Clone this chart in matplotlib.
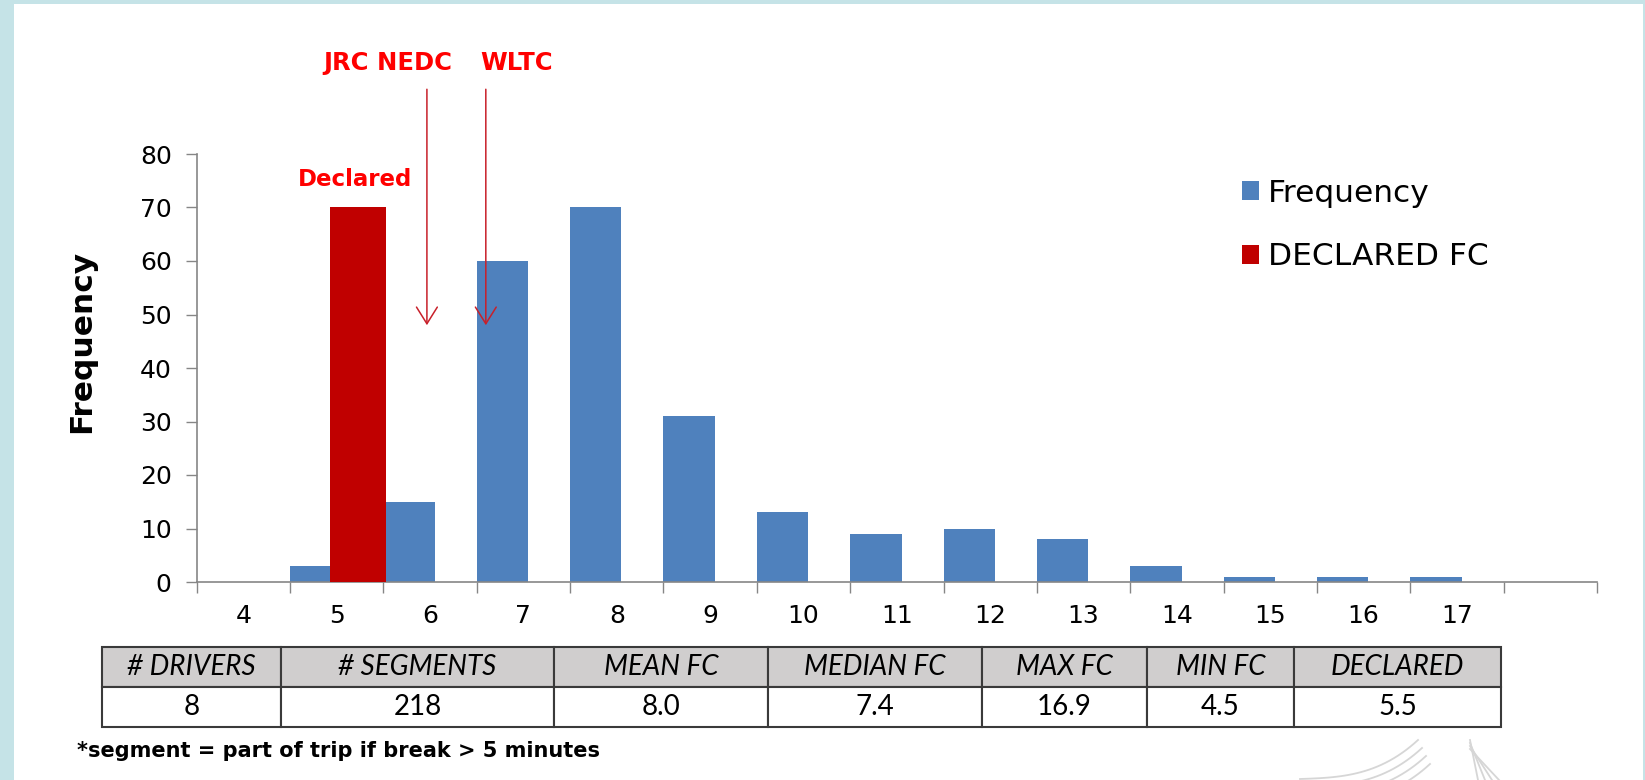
import matplotlib
matplotlib.use('Agg')

import matplotlib.pyplot as plt
from matplotlib.patches import Patch, Rectangle
from matplotlib.lines import Line2D
import numpy as np

# fuel consumption bins (l/100km) and counts per bin
categories = ['4', '5', '6', '7', '8', '9', '10', '11', '12', '13', '14', '15', '16', '17', '']
frequency = [0, 3, 15, 60, 70, 31, 13, 9, 10, 8, 3, 1, 1, 1, 0]
declared_fc = [0, 70, 0, 0, 0, 0, 0, 0, 0, 0, 0, 0, 0, 0, 0]

# summary table
table_headers = ['# DRIVERS', '# SEGMENTS', 'MEAN FC', 'MEDIAN FC', 'MAX FC', 'MIN FC', 'DECLARED']
table_values = ['8', '218', '8.0', '7.4', '16.9', '4.5', '5.5']

blue = '#4f81bd'
darkred = '#c00000'
axis_gray = '#868686'
W, H = 1645, 780


def fx(px):
  return px / W


def fy(py):
  return 1.0 - py / H


fig = plt.figure(figsize=(W / 100, H / 100), dpi=100)
fig.patch.set_facecolor('#c5e3e7')
fig.add_artist(Rectangle((fx(14), 0), fx(1643) - fx(14), fy(4), transform=fig.transFigure,
                         facecolor='white', edgecolor='none', zorder=0))

ax = fig.add_axes([fx(196.7), fy(582), fx(1597) - fx(196.7), fy(154) - fy(582)])
ax.set_facecolor('none')

x = np.arange(len(categories))
ax.bar(x - 0.5, frequency, width=0.55, align='edge', color=blue, label='Frequency', zorder=2)
ax.bar(x - 0.07, declared_fc, width=0.6, align='edge', color=darkred, label='DECLARED FC', zorder=3)

ax.set_xlim(-0.5, len(categories) - 0.5)
ax.set_ylim(0, 80)
ax.set_yticks(np.arange(0, 81, 10))
ax.set_xticks(x)
ax.set_xticklabels(categories)
ax.set_xticks(np.arange(-0.5, len(categories), 1), minor=True)
ax.tick_params(axis='x', which='major', length=0, pad=16, labelsize=18)
ax.tick_params(axis='x', which='minor', length=8, color=axis_gray, width=1)
ax.tick_params(axis='y', length=8, color=axis_gray, width=1, pad=10, labelsize=18)
for s in ['top', 'right']:
  ax.spines[s].set_visible(False)
for s in ['left', 'bottom']:
  ax.spines[s].set_color(axis_gray)
  ax.spines[s].set_linewidth(1.2)

fig.text(fx(82), fy(341), 'Frequency', rotation=90, ha='center', va='center',
         fontsize=22.5, fontweight='bold')

handles = [Patch(facecolor=blue), Patch(facecolor=darkred)]
ax.legend(handles, ['Frequency', 'DECLARED FC'], loc='center left',
          bbox_to_anchor=(fx(1226), fy(225)), bbox_transform=fig.transFigure,
          frameon=False, fontsize=22.5, handlelength=0.55, handleheight=0.55,
          handletextpad=0.3, labelspacing=1.1, borderpad=0)

# reference markers
ax.text(1.2, 75.2, 'Declared', color='red', fontsize=16.5, fontweight='bold',
        ha='center', va='center')
ax.text(1.55, 97.0, 'JRC NEDC', color='red', fontsize=17.5, fontweight='bold',
        ha='center', va='center', clip_on=False)
ax.text(2.93, 97.0, 'WLTC', color='red', fontsize=17.5, fontweight='bold',
        ha='center', va='center', clip_on=False)
for xa in [1.966, 2.597]:
  ax.annotate('', xy=(xa, 48.0), xytext=(xa, 92.1), annotation_clip=False,
              arrowprops=dict(arrowstyle='->,head_length=0.4,head_width=0.25',
                              color='#c8202a', lw=1.1, mutation_scale=30,
                              shrinkA=0, shrinkB=0))

# summary table below the chart
col_px = [179, 273, 214, 214, 165, 147, 207]
tax = fig.add_axes([fx(102), fy(727), fx(1501) - fx(102), fy(647) - fy(727)])
tax.axis('off')
tbl = tax.table(cellText=[table_values], colLabels=table_headers, cellLoc='center',
                colWidths=[c / sum(col_px) for c in col_px], bbox=[0, 0, 1, 1])
tbl.auto_set_font_size(False)
for (r, c), cell in tbl.get_celld().items():
  cell.set_edgecolor('#3a3a3a')
  cell.set_linewidth(1.5)
  if r == 0:
    cell.set_facecolor('#d0cece')
    cell.set_text_props(fontfamily='Lato', fontsize=20, fontstyle='italic')
  else:
    cell.set_facecolor('white')
    cell.set_text_props(fontfamily='Lato', fontsize=20)

fig.text(fx(77), fy(751), '*segment = part of trip if break > 5 minutes',
         fontweight='bold', fontsize=15, va='center', ha='left')

# faint logo lines in the corner
t = np.linspace(0, 1, 30)
for i in range(4):
  xs = 1300 + 118 * t + i * 4
  ys = 779 - 4 * t - 35 * t ** 3 + i * 8
  fig.add_artist(Line2D(fx(xs), fy(ys), transform=fig.transFigure, color='#d6d6d6', lw=1.3))
for i in range(4):
  fig.add_artist(Line2D([fx(1470), fx(1478 + i * 7)], [fy(740 + i * 3), fy(780)],
                        transform=fig.transFigure, color='#d6d6d6', lw=1.3))

fig.savefig('out.png', dpi=100)
